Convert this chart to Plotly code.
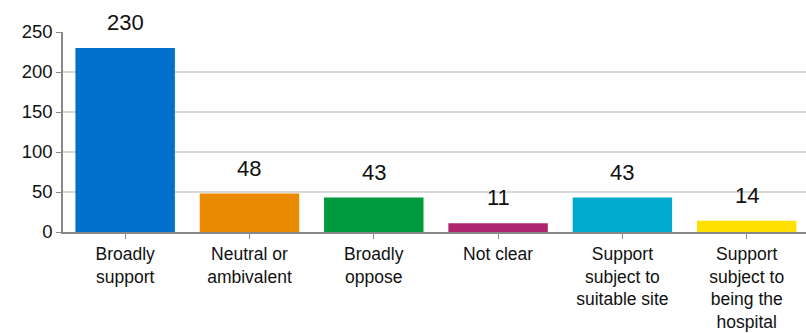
import plotly.graph_objects as go

categories = [
    "Broadly<br>support",
    "Neutral or<br>ambivalent",
    "Broadly<br>oppose",
    "Not clear",
    "Support<br>subject to<br>suitable site",
    "Support<br>subject to<br>being the<br>hospital",
]
counts = [230, 48, 43, 11, 43, 14]
colors = ["#0070CC", "#EA8A00", "#009A3E", "#B0246F", "#00AACF", "#FFE000"]
y_ticks = [0, 50, 100, 150, 200, 250]

x_pos = list(range(len(categories)))

fig = go.Figure(
    go.Bar(
        x=x_pos,
        y=counts,
        width=0.8,
        marker=dict(color=colors, line=dict(width=0)),
        hoverinfo="skip",
    )
)

for xi, v in zip(x_pos, counts):
    fig.add_annotation(
        x=xi, y=v, text=str(v), showarrow=False,
        yanchor="bottom", yshift=11,
        font=dict(family="Liberation Sans, Arial", size=22, color="#111111"),
    )

fig.update_layout(
    width=806,
    height=333,
    margin=dict(l=63, r=0, t=32, b=101),
    paper_bgcolor="white",
    plot_bgcolor="white",
    showlegend=False,
    bargap=0.2,
    font=dict(family="Liberation Sans, Arial", color="#111111"),
)

fig.update_xaxes(
    range=[-0.5, 5.477],
    tickmode="array",
    tickvals=x_pos,
    ticktext=categories,
    tickson="boundaries",
    ticks="outside",
    ticklen=5,
    tickcolor="#888888",
    showline=True,
    linecolor="#888888",
    linewidth=1.5,
    showgrid=False,
    tickfont=dict(size=17.5, color="#111111"),
    fixedrange=True,
)

fig.update_yaxes(
    range=[0, 250],
    tickvals=y_ticks,
    ticks="outside",
    ticklen=5,
    tickcolor="#888888",
    showline=True,
    linecolor="#888888",
    linewidth=1.5,
    showgrid=True,
    gridcolor="#D9D9D9",
    gridwidth=1.5,
    zeroline=False,
    tickfont=dict(size=18.5, color="#111111"),
    fixedrange=True,
)

fig.write_html("out.html", config={"displayModeBar": False})
